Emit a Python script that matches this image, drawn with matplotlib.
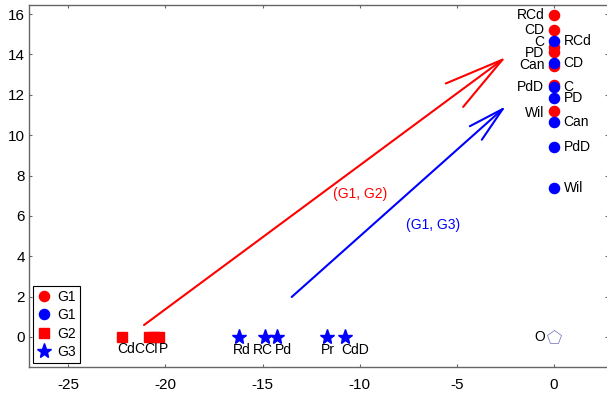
import matplotlib
matplotlib.use("Agg")
import matplotlib.pyplot as plt
from matplotlib.lines import Line2D

plt.rcParams['font.family'] = ['Liberation Sans', 'DejaVu Sans']
plt.rcParams['axes.unicode_minus'] = False

# G1 points (two groups at x = 0)
g1_names = ['RCd', 'CD', 'C', 'PD', 'Can', 'PdD', 'Wil']
g1_red_y = [15.95, 15.23, 14.36, 14.11, 13.44, 12.47, 11.19]
g1_red_label_y = [15.95, 15.23, 14.63, 14.07, 13.47, 12.40, 11.11]
g1_blue_y = [14.68, 13.58, 12.38, 11.85, 10.66, 9.42, 7.36]

# G2 points (red squares on y = 0)
g2_names = ['Cd', 'C', 'CI', 'P']
g2_x = [-22.25, -20.85, -20.59, -20.33]
g2_label_x = [-22.03, -21.32, -20.71, -20.11]

# G3 points (blue stars on y = 0)
g3_names = ['Rd', 'RC', 'Pd', 'Pr', 'CdD']
g3_x = [-16.21, -14.87, -14.24, -11.70, -10.76]
g3_label_x = [-16.05, -14.98, -13.95, -11.66, -10.24]

# origin
origin_name = 'O'

# arrows: (start, end)
arrow_g2 = ((-21.1, 0.59), (-2.47, 13.87))
arrow_g3 = ((-13.5, 1.98), (-2.47, 11.44))
arrow_g2_label = (-9.98, 7.08)
arrow_g3_label = (-6.23, 5.55)

fig = plt.figure(figsize=(6.07, 3.98), dpi=100)
ax = fig.add_axes([29 / 607, 31 / 398, 579 / 607, 362 / 398])

ax.set_xlim(-27.02, 2.78)
ax.set_ylim(-1.49, 16.45)

# arrows
ax.annotate('', xy=arrow_g2[1], xytext=arrow_g2[0],
            arrowprops=dict(arrowstyle='->,head_length=4.3,head_width=1.05',
                            mutation_scale=10, color='red', lw=1.5,
                            shrinkA=0, shrinkB=0))
ax.annotate('', xy=arrow_g3[1], xytext=arrow_g3[0],
            arrowprops=dict(arrowstyle='->,head_length=2.6,head_width=0.65',
                            mutation_scale=10, color='blue', lw=1.5,
                            shrinkA=0, shrinkB=0))
ax.text(arrow_g2_label[0], arrow_g2_label[1], '(G1, G2)', color='red',
        fontsize=10, ha='center', va='center')
ax.text(arrow_g3_label[0], arrow_g3_label[1], '(G1, G3)', color='blue',
        fontsize=10, ha='center', va='center')

# G1 red + blue circles
ax.plot([0] * len(g1_red_y), g1_red_y, 'o', color='red', ms=7.3, ls='none')
ax.plot([0] * len(g1_blue_y), g1_blue_y, 'o', color='blue', ms=7.3, ls='none')
for name, y in zip(g1_names, g1_red_label_y):
    ax.annotate(name, (0, y), xytext=(-7, 0), textcoords='offset points',
                ha='right', va='center', fontsize=10)
for name, y in zip(g1_names, g1_blue_y):
    ax.annotate(name, (0, y), xytext=(7, 0), textcoords='offset points',
                ha='left', va='center', fontsize=10)

# G2 squares
ax.plot(g2_x, [0] * len(g2_x), 's', color='red', ms=6.5, ls='none')
for name, x in zip(g2_names, g2_label_x):
    ax.annotate(name, (x, 0), xytext=(0, -8.5), textcoords='offset points',
                ha='center', va='center', fontsize=10)

# G3 stars
ax.plot(g3_x, [0] * len(g3_x), '*', color='blue', ms=11, ls='none')
for name, x in zip(g3_names, g3_label_x):
    ax.annotate(name, (x, 0), xytext=(0, -9.5), textcoords='offset points',
                ha='center', va='center', fontsize=10)

# origin pentagon
ax.plot([0], [0], 'p', mfc='none', mec='#6a6ab8', mew=0.5, ms=10)
ax.annotate(origin_name, (0, 0), xytext=(-6.5, 0), textcoords='offset points',
            ha='right', va='center', fontsize=10)

# axes styling
for s in ax.spines.values():
    s.set_color('0.4')
    s.set_linewidth(1)
ax.set_xticks([-25, -20, -15, -10, -5, 0])
ax.set_yticks([0, 2, 4, 6, 8, 10, 12, 14, 16])
ax.tick_params(axis='both', direction='in', length=2.5, color='0.4',
               top=True, right=True, labelsize=11)
ax.tick_params(axis='x', pad=8)
ax.tick_params(axis='y', pad=3)

# legend
handles = [
    Line2D([0], [0], marker='o', color='red', ls='none', ms=7.3),
    Line2D([0], [0], marker='o', color='blue', ls='none', ms=7.3),
    Line2D([0], [0], marker='s', color='red', ls='none', ms=6.5),
    Line2D([0], [0], marker='*', color='blue', ls='none', ms=11),
]
leg = ax.legend(handles, ['G1', 'G1', 'G2', 'G3'], loc='lower left',
                fontsize=10, fancybox=False, framealpha=1, edgecolor='black',
                borderaxespad=0.3, borderpad=0.3, handlelength=1.0,
                handletextpad=0.4, labelspacing=0.3)
leg.get_frame().set_linewidth(0.8)

fig.savefig('out.png', dpi=100)
